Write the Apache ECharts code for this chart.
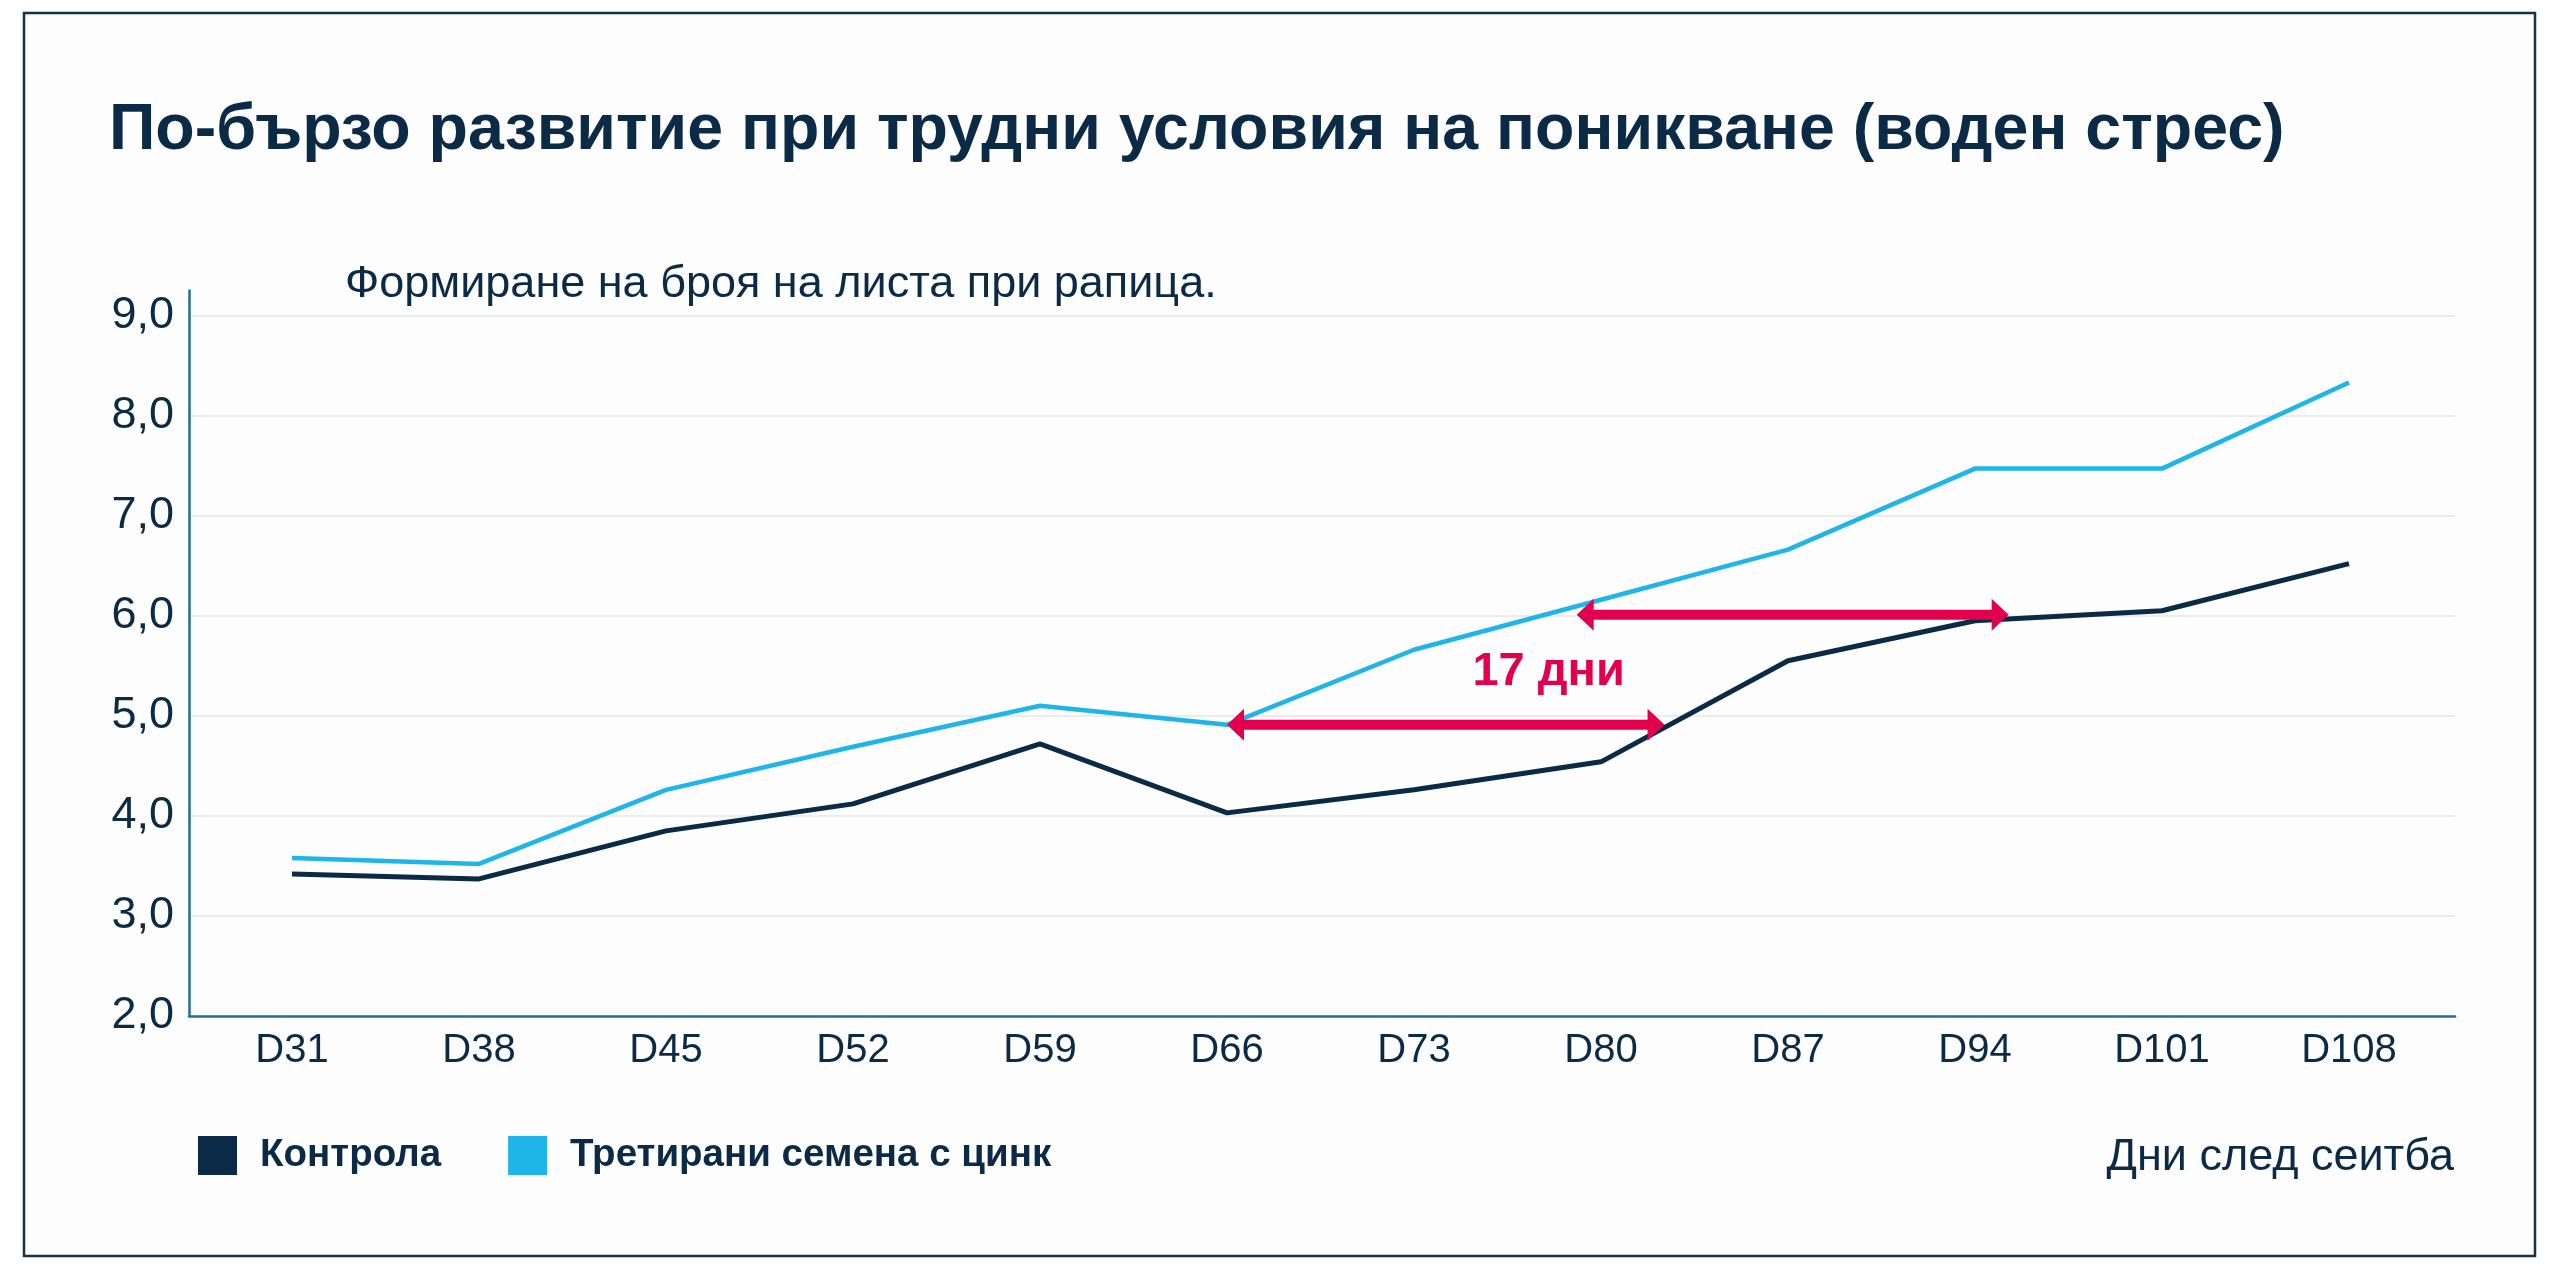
<!DOCTYPE html>
<html>
<head>
<meta charset="utf-8">
<script src="https://cdn.jsdelivr.net/npm/echarts@6/dist/echarts.min.js"></script>
<style>
  html, body { margin: 0; padding: 0; background: #ffffff; }
  #app { width: 2560px; height: 1270px; }
</style>
</head>
<body>
<div id="app"></div>
<script>
// данни
var days = ['D31', 'D38', 'D45', 'D52', 'D59', 'D66', 'D73', 'D80', 'D87', 'D94', 'D101', 'D108'];
var seriesNames = ['Контрола', 'Третирани семена с цинк'];
var control = [3.42, 3.37, 3.85, 4.12, 4.72, 4.03, 4.26, 4.54, 5.55, 5.95, 6.05, 6.52];
var zinc = [3.58, 3.52, 4.26, 4.69, 5.10, 4.91, 5.66, 6.16, 6.66, 7.47, 7.47, 8.33];
// стрелки: [от индекс, до индекс, стойност]
var arrowSpans = [[5, 7.34, 4.91], [6.87, 9.18, 6.01]];
var arrowLabel = ['17 дни', 6.72, 5.44];

var navy = '#0b2a45';
var cyan = '#1fb5e9';
var red = '#e2004e';
var axisBlue = '#1f6f97';
var font = '"Liberation Sans", Arial, sans-serif';

var myChart = echarts.init(document.getElementById('app'));

var yRange = { min: 2, max: 9.25, interval: 1 };

var option = {
    animation: false,
    backgroundColor: '#ffffff',
    textStyle: { fontFamily: font },
    title: [{
        text: 'По-бързо развитие при трудни условия на поникване (воден стрес)',
        left: 104, top: 94,
        textStyle: { fontFamily: font, fontSize: 64.5, fontWeight: 'bold', color: navy }
    }, {
        text: 'Формиране на броя на листа при рапица.',
        left: 340, top: 257,
        textStyle: { fontFamily: font, fontSize: 45, fontWeight: 'normal', color: navy }
    }, {
        text: 'Дни след сеитба',
        right: 101, top: 1130,
        textStyle: { fontFamily: font, fontSize: 45, fontWeight: 'normal', color: navy }
    }],
    legend: {
        data: seriesNames,
        left: 193, top: 1131,
        icon: 'rect',
        itemWidth: 39, itemHeight: 39,
        itemGap: 67,
        textStyle: { fontFamily: font, fontSize: 38.5, fontWeight: 'bold', color: navy, padding: [0, 0, 0, 18] }
    },
    graphic: [{
        type: 'rect',
        z: -10,
        shape: { x: 24, y: 13, width: 2511, height: 1243 },
        style: { fill: '#fdfdfd', stroke: '#12324e', lineWidth: 2.5 }
    }],
    // grid 0: точки и надписи; grid 1: оси и мрежа
    grid: [
        { left: 198.5, right: 117.5, top: 290.5, bottom: 254 },
        { left: 189, right: 105, top: 290.5, bottom: 254 }
    ],
    xAxis: [{
        type: 'category',
        gridIndex: 0,
        data: days,
        boundaryGap: true,
        axisLine: { show: false },
        axisTick: { show: false },
        axisLabel: { fontFamily: font, fontSize: 40, color: navy, margin: 15 },
        splitLine: { show: false }
    }, {
        type: 'value',
        gridIndex: 0,
        min: -0.5, max: 11.5,
        show: false
    }, {
        type: 'value',
        gridIndex: 1,
        min: 0, max: 1,
        axisLine: { show: true, onZero: false, lineStyle: { color: axisBlue, width: 2.5 } },
        axisTick: { show: false },
        axisLabel: { show: false },
        splitLine: { show: false }
    }],
    yAxis: [{
        type: 'value',
        gridIndex: 0,
        min: yRange.min, max: yRange.max, interval: yRange.interval,
        show: false
    }, {
        type: 'value',
        gridIndex: 1,
        min: yRange.min, max: yRange.max, interval: yRange.interval,
        axisLine: { show: true, onZero: false, lineStyle: { color: axisBlue, width: 2.5 } },
        axisTick: { show: false },
        axisLabel: {
            fontFamily: font, fontSize: 45, color: navy, margin: 15,
            formatter: function (v) {
                return Number.isInteger(v) ? v.toFixed(1).replace('.', ',') : '';
            }
        },
        splitLine: { show: true, showMaxLine: false, lineStyle: { color: '#ececec', width: 2 } }
    }],
    series: [{
        name: seriesNames[0],
        type: 'line',
        xAxisIndex: 0, yAxisIndex: 0,
        data: control,
        symbol: 'none',
        color: navy,
        lineStyle: { color: navy, width: 5 },
        z: 3
    }, {
        name: seriesNames[1],
        type: 'line',
        xAxisIndex: 0, yAxisIndex: 0,
        data: zinc,
        symbol: 'none',
        color: cyan,
        lineStyle: { color: cyan, width: 4.5 },
        z: 3
    }, {
        type: 'custom',
        xAxisIndex: 1, yAxisIndex: 0,
        data: arrowSpans,
        z: 5,
        renderItem: function (params, api) {
            var a = api.coord([api.value(0), api.value(2)]);
            var b = api.coord([api.value(1), api.value(2)]);
            var headL = 17, headH = 16, shaft = 10;
            return {
                type: 'group',
                children: [{
                    type: 'rect',
                    shape: { x: a[0] + headL - 1, y: a[1] - shaft / 2, width: b[0] - a[0] - 2 * headL + 2, height: shaft },
                    style: { fill: red }
                }, {
                    type: 'polygon',
                    shape: { points: [[a[0], a[1]], [a[0] + headL, a[1] - headH], [a[0] + headL, a[1] + headH]] },
                    style: { fill: red }
                }, {
                    type: 'polygon',
                    shape: { points: [[b[0], b[1]], [b[0] - headL, b[1] - headH], [b[0] - headL, b[1] + headH]] },
                    style: { fill: red }
                }]
            };
        }
    }, {
        type: 'scatter',
        xAxisIndex: 1, yAxisIndex: 0,
        data: [[arrowLabel[1], arrowLabel[2]]],
        symbolSize: 0,
        itemStyle: { opacity: 1 },
        z: 5,
        label: {
            show: true,
            position: 'inside',
            formatter: arrowLabel[0],
            fontFamily: font, fontSize: 47, fontWeight: 'bold', color: red
        }
    }]
};
myChart.setOption(option);
</script>
</body>
</html>
